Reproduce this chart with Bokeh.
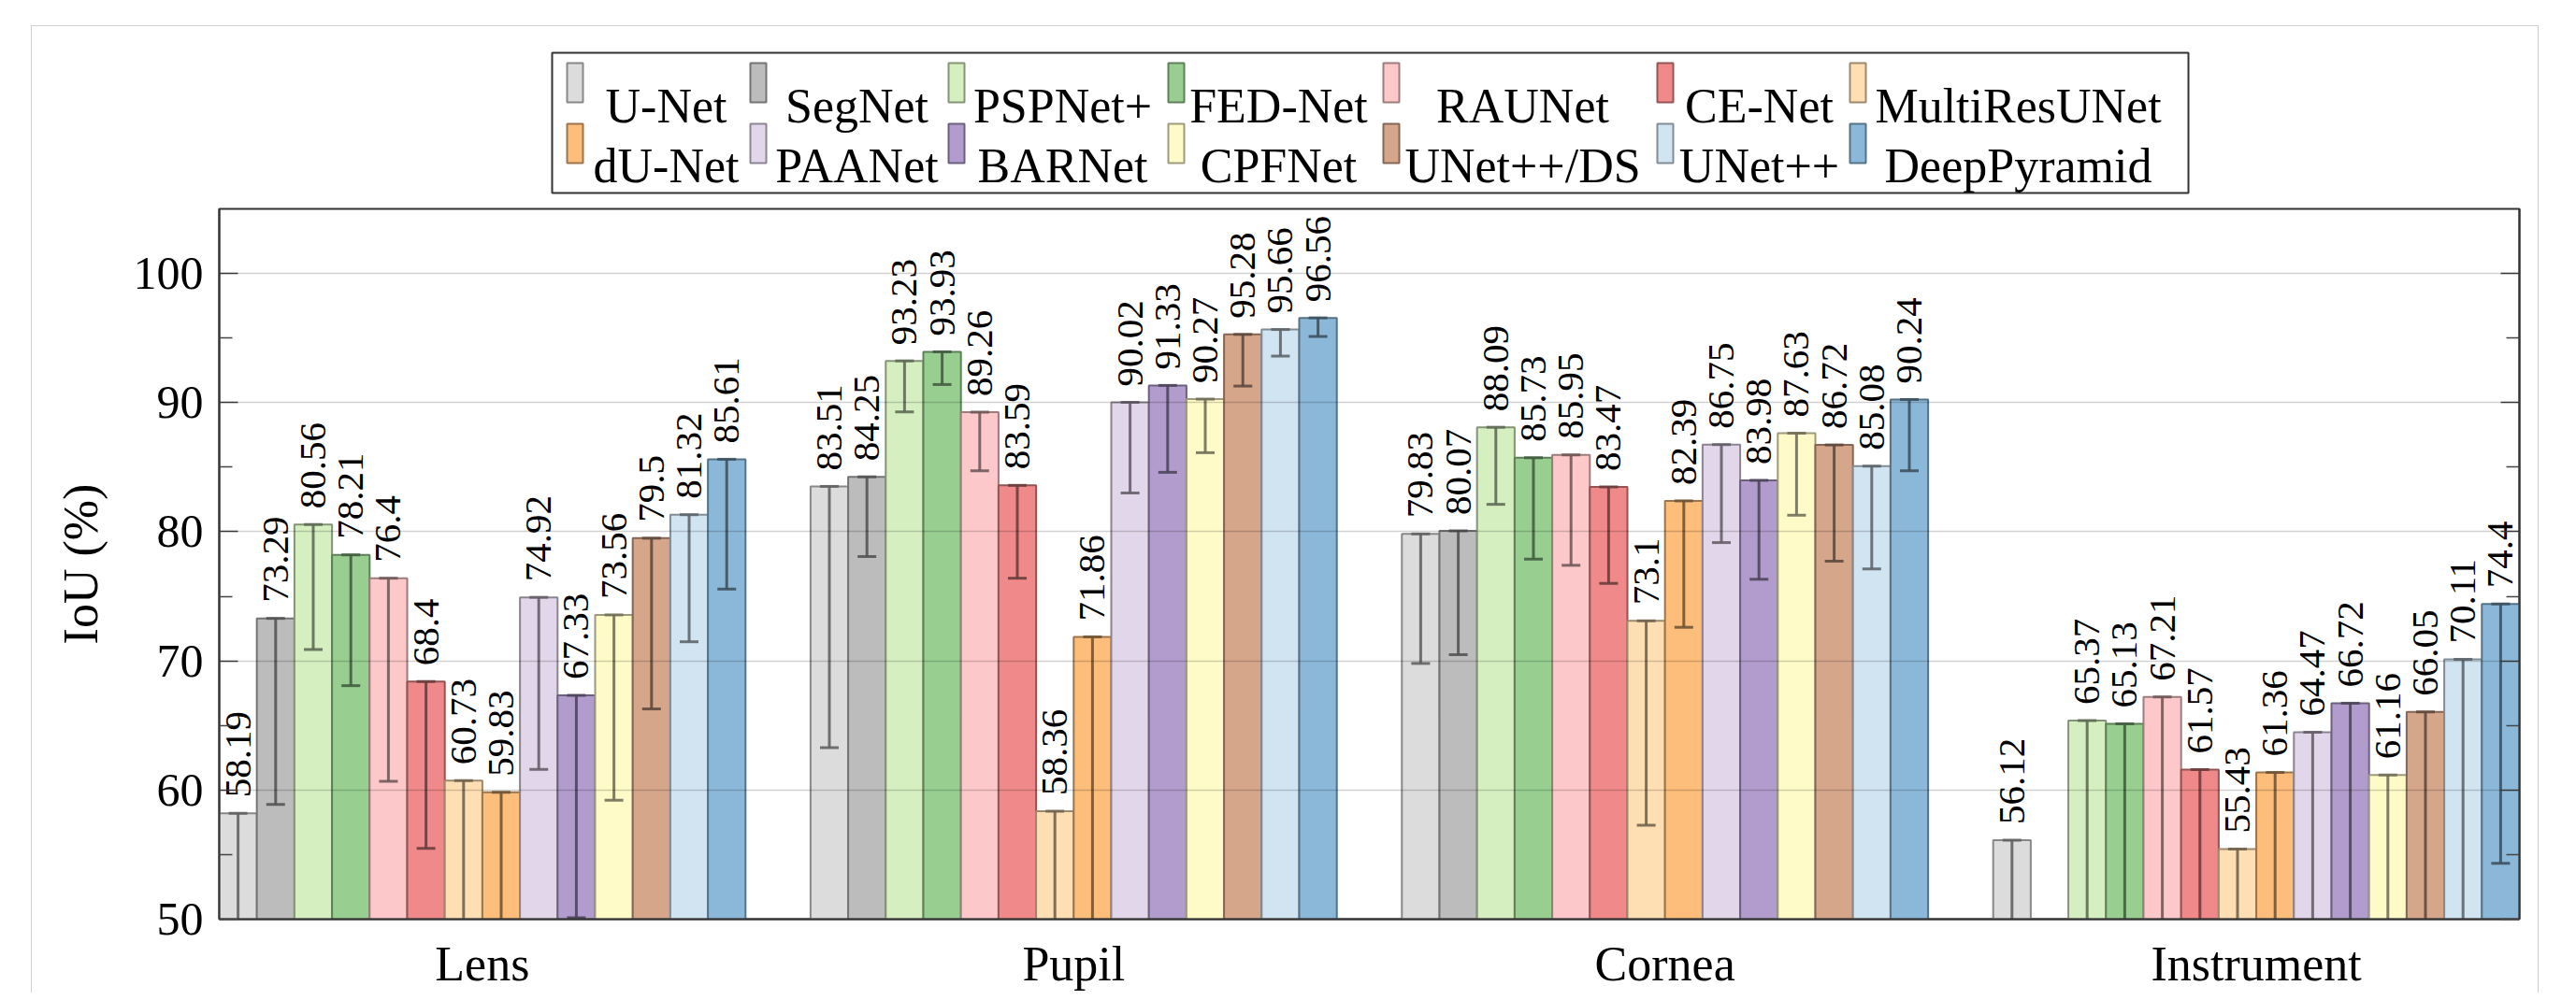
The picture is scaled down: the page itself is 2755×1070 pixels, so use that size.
import math
from bokeh.plotting import figure
from bokeh.models import Range1d, FixedTicker, LinearAxis, ColumnDataSource
from bokeh.layouts import column
from bokeh.transform import dodge
from bokeh.core.properties import value
from bokeh.embed import file_html
from bokeh.resources import INLINE

nan = float("nan")

groups = ["Lens", "Pupil", "Cornea", "Instrument"]
models = ["U-Net", "SegNet", "PSPNet+", "FED-Net", "RAUNet", "CE-Net", "MultiResUNet",
          "dU-Net", "PAANet", "BARNet", "CPFNet", "UNet++/DS", "UNet++", "DeepPyramid"]
colors = ["#dcdcdc", "#bcbcbc", "#d5efc1", "#98cf91", "#fdc8ca", "#f08989", "#fedfb3",
          "#fdbd7b", "#e2d6ea", "#b19ccd", "#fefbc9", "#d6a68b", "#d1e4f2", "#8bb8d9"]

lens_iou = [58.19, 73.29, 80.56, 78.21, 76.4, 68.4, 60.73, 59.83, 74.92, 67.33, 73.56, 79.5, 81.32, 85.61]
lens_err = [10.0, 14.41, 9.68, 10.13, 15.72, 12.92, 12.0, 11.0, 13.32, 17.23, 14.36, 13.22, 9.84, 10.05]
pupil_iou = [83.51, 84.25, 93.23, 93.93, 89.26, 83.59, 58.36, 71.86, 90.02, 91.33, 90.27, 95.28, 95.66, 96.56]
pupil_err = [20.23, 6.17, 3.95, 2.53, 4.54, 7.19, 12.0, 25.0, 7.02, 6.73, 4.15, 4.00, 2.06, 1.44]
cornea_iou = [79.83, 80.07, 88.09, 85.73, 85.95, 83.47, 73.1, 82.39, 86.75, 83.98, 87.63, 86.72, 85.08, 90.24]
cornea_err = [10.03, 9.59, 5.97, 7.85, 8.55, 7.47, 15.82, 9.79, 7.59, 7.66, 6.35, 9.00, 7.96, 5.52]
instrument_iou = [56.12, nan, 65.37, 65.13, 67.21, 61.57, 55.43, 61.36, 64.47, 66.72, 61.16, 66.05, 70.11, 74.4]
instrument_err = [14.0, nan, 22.0, 21.0, 24.0, 19.0, 13.0, 18.0, 20.0, 23.0, 19.0, 22.0, 25.0, 20.08]

y_ticks = [50, 60, 70, 80, 90, 100]
y_minor = [55, 65, 75, 85, 95]

FONT = value("Liberation Serif")


def shade(h, f):
    r, g, b = int(h[1:3], 16), int(h[3:5], 16), int(h[5:7], 16)
    return "#%02x%02x%02x" % (int(r * f), int(g * f), int(b * f))


def fmt(v):
    return "" if math.isnan(v) else "{:g}".format(v)


W = 2680
BL, BR = 200, 20          # left / right borders around the plot frame
bar_w = 0.06357
n = len(models)

p = figure(width=W, height=844, output_backend="svg", toolbar_location=None,
           x_range=Range1d(-n / 2 * bar_w, len(groups) - 1 + n / 2 * bar_w),
           y_range=Range1d(50, 105),
           min_border_left=BL, min_border_right=BR, min_border_top=5, min_border_bottom=77)
p.background_fill_color = "white"
p.border_fill_color = "white"
p.outline_line_color = "#333333"
p.outline_line_width = 2

all_iou = [lens_iou, pupil_iou, cornea_iou, instrument_iou]
all_err = [lens_err, pupil_err, cornea_err, instrument_err]

for i, (m, c) in enumerate(zip(models, colors)):
    tops = [g[i] for g in all_iou]
    errs = [e[i] for e in all_err]
    src = ColumnDataSource(dict(
        gx=list(range(len(groups))),
        top=tops,
        lower=[t - e for t, e in zip(tops, errs)],
        label=[fmt(t) for t in tops],
    ))
    off = (i - (n - 1) / 2) * bar_w
    xd = dodge("gx", off, range=p.x_range)
    p.vbar(x=xd, top="top", bottom=0, width=bar_w, source=src,
           fill_color=c, line_color=shade(c, 0.62), line_width=2)
    ecol = shade(c, 0.45)
    p.segment(x0=xd, y0="top", x1=xd, y1="lower", source=src,
              line_color=ecol, line_width=3, line_alpha=0.9)
    p.dash(x=xd, y="lower", size=20, source=src, line_color=ecol, line_width=3, line_alpha=0.9)
    p.dash(x=xd, y="top", size=20, source=src, line_color=ecol, line_width=3, line_alpha=0.9)
    p.text(x=xd, y="top", text="label", source=src, angle=math.pi / 2,
           text_align="left", text_baseline="middle", y_offset=-17,
           text_font=FONT, text_font_size="41px", text_color="black")

# grid
p.xgrid.visible = False
p.ygrid.ticker = FixedTicker(ticks=[60, 70, 80, 90, 100])
p.ygrid.grid_line_color = "black"
p.ygrid.grid_line_alpha = 0.18
p.ygrid.grid_line_width = 1.5
p.ygrid.level = "overlay"

# y axis
ya = p.yaxis[0]
ya.ticker = FixedTicker(ticks=y_ticks, minor_ticks=y_minor)
ya.axis_label = "IoU (%)"
ya.axis_label_text_font = "Liberation Serif"
ya.axis_label_text_font_size = "52px"
ya.axis_label_text_font_style = "normal"
ya.axis_label_text_color = "black"
ya.axis_label_standoff = 25
ya.major_label_text_font = "Liberation Serif"
ya.major_label_text_font_size = "50px"
ya.major_label_text_color = "black"
ya.major_label_standoff = 17
ya.major_tick_in = 20
ya.major_tick_out = 0
ya.minor_tick_in = 14
ya.minor_tick_out = 0
ya.major_tick_line_color = "#444444"
ya.minor_tick_line_color = "#444444"
ya.major_tick_line_width = 1.5
ya.minor_tick_line_width = 1.5
ya.axis_line_color = "#333333"
ya.axis_line_width = 2

ra = LinearAxis(ticker=FixedTicker(ticks=y_ticks, minor_ticks=y_minor),
                major_label_overrides={t: "" for t in y_ticks})
ra.major_label_standoff = 0
ra.major_label_text_font_size = "0px"
ra.major_tick_in = 20
ra.major_tick_out = 0
ra.minor_tick_in = 14
ra.minor_tick_out = 0
ra.major_tick_line_color = "#444444"
ra.minor_tick_line_color = "#444444"
ra.major_tick_line_width = 1.5
ra.minor_tick_line_width = 1.5
ra.axis_line_color = "#333333"
ra.axis_line_width = 2
p.add_layout(ra, "right")

# x axis
xa = p.xaxis[0]
xa.ticker = FixedTicker(ticks=list(range(len(groups))))
xa.major_label_overrides = {i: g for i, g in enumerate(groups)}
xa.major_label_text_font = "Liberation Serif"
xa.major_label_text_font_size = "52px"
xa.major_label_text_color = "black"
xa.major_label_standoff = 19
xa.major_tick_in = 0
xa.major_tick_out = 0
xa.minor_tick_in = 0
xa.minor_tick_out = 0
xa.axis_line_color = "#333333"
xa.axis_line_width = 2

# legend (separate strip above the plot, page-like pixel coordinates;
# its frame lines up with the plot frame: page x 242..2702)
leg_col_left = [614, 810, 1022, 1257, 1487, 1780, 1986]
leg_col_text = [720, 924, 1144, 1375, 1636, 1889, 2166]
leg_row_top = [67, 132]
leg_row_base = [113, 177]

leg = figure(width=W, height=190, output_backend="svg", toolbar_location=None,
             x_range=Range1d(242, 2702), y_range=Range1d(218, 28),
             x_axis_type=None, y_axis_type=None,
             min_border_left=BL, min_border_right=BR, min_border_top=0, min_border_bottom=0)
leg.outline_line_color = None
leg.grid.visible = False
leg.background_fill_color = "white"
leg.border_fill_color = "white"
leg.quad(left=[598], right=[2348], top=[56], bottom=[206], fill_color=None,
         line_color="#333333", line_width=2)
sl, sr, st, sb, sc, se, tx, ty = [], [], [], [], [], [], [], []
for k, (m, c) in enumerate(zip(models, colors)):
    r, ci = divmod(k, 7)
    sl.append(leg_col_left[ci]); sr.append(leg_col_left[ci] + 17)
    st.append(leg_row_top[r]); sb.append(leg_row_top[r] + 42)
    sc.append(c); se.append(shade(c, 0.62))
    tx.append(leg_col_text[ci]); ty.append(leg_row_base[r])
leg.quad(left=sl, right=sr, top=st, bottom=sb, fill_color=sc, line_color=se, line_width=2)
leg.text(x=tx, y=ty, text=models, text_align="center", text_baseline="alphabetic",
         text_font=FONT, text_font_size="52px", text_color="black")

layout = column(leg, p)
layout.margin = (27, 0, 0, 33)
layout.styles = {"border-top": "1px solid #cfcfcf", "border-left": "1px solid #cfcfcf",
                 "border-right": "1px solid #cfcfcf"}

open("out.html", "w").write(file_html(layout, INLINE))
